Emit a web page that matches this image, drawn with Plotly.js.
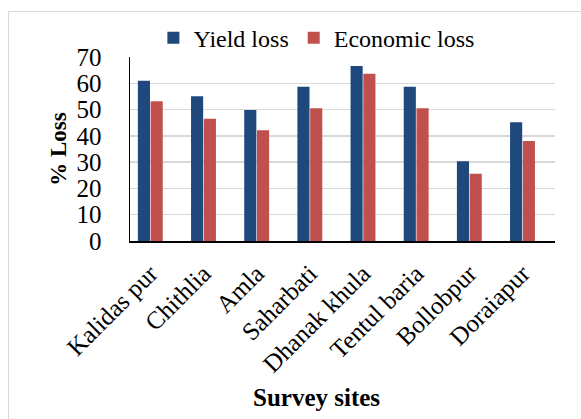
<!DOCTYPE html>
<html>
<head>
<meta charset="utf-8">
<script src="https://cdn.plot.ly/plotly-3.0.1.min.js"></script>
<style>
  html, body { margin: 0; padding: 0; width: 581px; height: 419px; overflow: hidden; background: #fff; }
  #frame { position: absolute; left: 8px; top: 11px; width: 700px; height: 600px; border: 1px solid #d9d9d9; box-sizing: border-box; }
  #chart { position: absolute; left: 0; top: 0; width: 581px; height: 419px; }
</style>
</head>
<body>
<div id="frame"></div>
<div id="chart"></div>
<script>
const sites = ["Kalidas pur", "Chithlia", "Amla", "Saharbati", "Dhanak khula", "Tentul baria", "Bollobpur", "Doraiapur"];
const yieldLoss = [61.0, 55.1, 49.8, 58.7, 66.6, 58.7, 30.3, 45.2];
const economicLoss = [53.2, 46.5, 42.1, 50.5, 63.6, 50.5, 25.6, 38.0];
const yTicks = [0, 10, 20, 30, 40, 50, 60, 70];

const serif = "Liberation Serif";

const traces = [
  { type: "bar", name: "Yield loss", x: sites, y: yieldLoss, marker: { color: "#1f497d" } },
  { type: "bar", name: "Economic loss", x: sites, y: economicLoss, marker: { color: "#c0504d" } }
];

const layout = {
  width: 581, height: 419,
  margin: { l: 130, r: 26, t: 57, b: 178 },
  paper_bgcolor: "rgba(0,0,0,0)",
  plot_bgcolor: "rgba(0,0,0,0)",
  font: { family: serif, color: "#000", size: 24 },
  barmode: "group",
  bargap: 0.52,
  bargroupgap: 0.05,
  showlegend: true,
  legend: {
    orientation: "h", x: 0.055, xanchor: "left", y: 1.103, yanchor: "middle",
    font: { family: serif, size: 24, color: "#000" },
    traceorder: "normal", itemwidth: 30, bgcolor: "rgba(0,0,0,0)"
  },
  xaxis: {
    type: "category",
    range: [-0.382, 7.611],
    tickangle: -45,
    tickfont: { family: serif, size: 25, color: "#000" },
    showline: true, linecolor: "#000", linewidth: 2,
    ticks: "", ticklabelstandoff: 6,
    showgrid: false
  },
  yaxis: {
    range: [0, 70],
    tickvals: yTicks,
    ticktext: yTicks.map(String),
    tickfont: { family: serif, size: 25, color: "#000" },
    showline: true, linecolor: "#000", linewidth: 1.5,
    ticks: "", ticklabelstandoff: 22,
    showgrid: true, gridcolor: "#d9d9d9", gridwidth: 1.5,
    zeroline: false,
    title: { text: "<b>% Loss</b>", font: { family: serif, size: 23, color: "#000" }, standoff: 3 }
  },
  annotations: [{
    text: "<b>Survey sites</b>", xref: "paper", yref: "paper",
    x: 0.438, y: -0.853, xanchor: "center", yanchor: "middle", showarrow: false,
    font: { family: serif, size: 25, color: "#000" }
  }]
};

Plotly.newPlot("chart", traces, layout, { displayModeBar: false, staticPlot: true });
</script>
</body>
</html>
